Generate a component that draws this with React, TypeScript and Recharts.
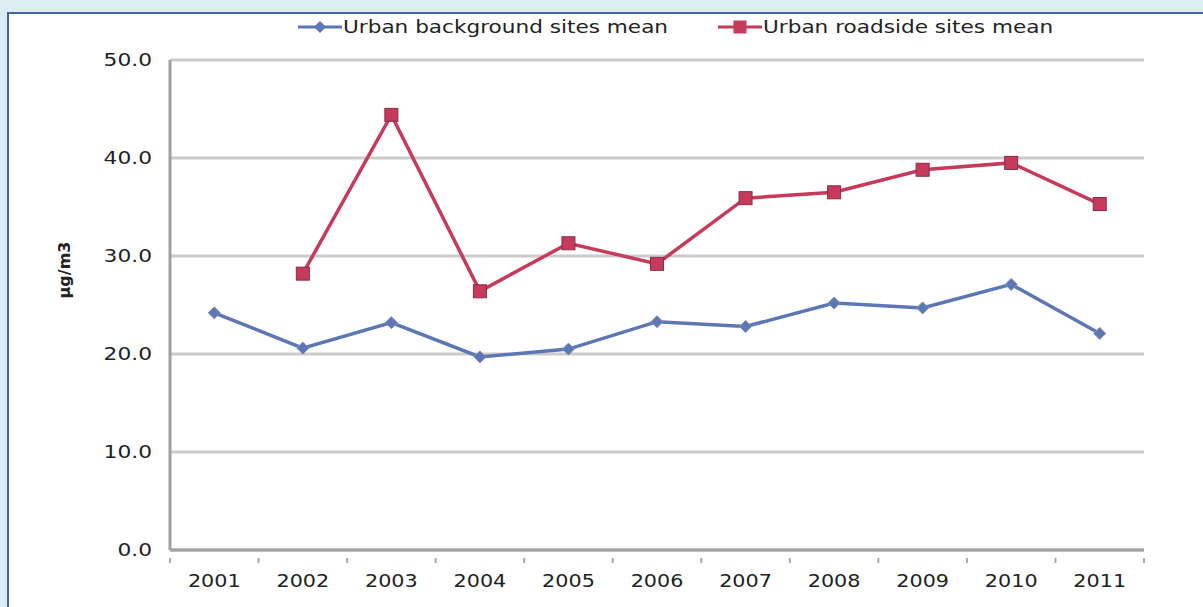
import React from "react";
import { LineChart, Line, XAxis, YAxis, CartesianGrid } from "recharts";

const years = ["2001", "2002", "2003", "2004", "2005", "2006", "2007", "2008", "2009", "2010", "2011"];
const background = [24.2, 20.6, 23.2, 19.7, 20.5, 23.3, 22.8, 25.2, 24.7, 27.1, 22.1];
const roadside = [null, 28.2, 44.4, 26.4, 31.3, 29.2, 35.9, 36.5, 38.8, 39.5, 35.3];
const yTicks = [0, 10, 20, 30, 40, 50];

const BLUE = "#5d76b4";
const RED = "#c63a5c";
const FONT = "'DejaVu Sans', sans-serif";
// source image is stretched sideways, so text is widened a bit
const STRETCH = 1.22;

const data = years.map((year, i) => ({
  pos: i + 0.5,
  year,
  background: background[i],
  roadside: roadside[i],
}));

// label ticks in the middle of each band, small tick marks on band edges
const xTicks: number[] = [];
for (let i = 0; i <= years.length * 2; i++) xTicks.push(i / 2);

function XTick(props: any) {
  const { x, y, payload } = props;
  const v = payload.value as number;
  if (Number.isInteger(v)) {
    return <line x1={x} x2={x} y1={y} y2={y + 5} stroke="#aaa" strokeWidth={2} />;
  }
  return (
    <text
      transform={`translate(${x},${y + 29}) scale(${STRETCH},1)`}
      textAnchor="middle"
      fontFamily={FONT}
      fontSize={17}
      fill="#222"
    >
      {years[Math.floor(v)]}
    </text>
  );
}

function YTick(props: any) {
  const { x, y, payload } = props;
  return (
    <text
      transform={`translate(${x},${y + 6}) scale(1.28,1)`}
      textAnchor="end"
      fontFamily={FONT}
      fontSize={17}
      fill="#222"
    >
      {(payload.value as number).toFixed(1)}
    </text>
  );
}

function Diamond(props: any) {
  const { cx, cy, index } = props;
  if (cx == null || cy == null) return <g key={`d${index}`} />;
  const r = 6;
  return (
    <path
      key={`d${index}`}
      d={`M${cx},${cy - r}L${cx + r},${cy}L${cx},${cy + r}L${cx - r},${cy}Z`}
      fill={BLUE}
      stroke="#8090aa"
      strokeWidth={1}
    />
  );
}

function Square(props: any) {
  const { cx, cy, index } = props;
  if (cx == null || cy == null) return <g key={`s${index}`} />;
  const r = 6.5;
  return (
    <rect
      key={`s${index}`}
      x={cx - r}
      y={cy - r}
      width={r * 2}
      height={r * 2}
      fill={RED}
      stroke="#8a2c44"
      strokeWidth={1}
    />
  );
}

function LegendItem({ color, marker, label }: { color: string; marker: "d" | "s"; label: string }) {
  return (
    <div style={{ display: "flex", alignItems: "center", position: "relative" }}>
      <svg width={44} height={16}>
        <line x1={0} x2={44} y1={8} y2={8} stroke={color} strokeWidth={3} />
        {marker === "d" ? (
          <path d="M22,2L28,8L22,14L16,8Z" fill={color} />
        ) : (
          <rect x={15.5} y={1.5} width={13} height={13} fill={color} />
        )}
      </svg>
      <span
        style={{
          fontFamily: FONT,
          fontSize: 17,
          color: "#222",
          marginLeft: 1,
          display: "inline-block",
          whiteSpace: "nowrap",
          transform: "scaleX(1.27)",
          transformOrigin: "left center",
        }}
      >
        {label}
      </span>
    </div>
  );
}

export default function App() {
  return (
    <div
      style={{
        position: "fixed",
        left: 0,
        top: 0,
        width: 1203,
        height: 607,
        background: "#dcedf3",
        overflow: "hidden",
      }}
    >
      <div
        style={{
          position: "absolute",
          left: 7,
          top: 12,
          width: 1220,
          height: 620,
          background: "#fff",
          borderLeft: "2px solid #46659a",
          borderTop: "2px solid #46659a",
        }}
      />
      <div style={{ position: "absolute", left: 0, top: 0 }}>
        <LineChart width={1203} height={607} data={data} margin={{ top: 60, right: 59, bottom: 0, left: 0 }}>
          <CartesianGrid vertical={false} stroke="#cbcbcb" strokeWidth={3} />
          <XAxis
            dataKey="pos"
            type="number"
            domain={[0, 11]}
            ticks={xTicks}
            interval={0}
            height={57}
            tick={<XTick />}
            tickLine={false}
            axisLine={{ stroke: "#a0a0a0", strokeWidth: 3 }}
          />
          <YAxis
            domain={[0, 50]}
            ticks={yTicks}
            width={170}
            tickSize={0}
            tickMargin={18}
            tick={<YTick />}
            axisLine={{ stroke: "#a0a0a0", strokeWidth: 3 }}
            label={{
              content: () => (
                <text
                  x={0}
                  y={0}
                  transform="translate(70,270) rotate(-90)"
                  textAnchor="middle"
                  fontFamily={FONT}
                  fontSize={16}
                  fontWeight="bold"
                  fill="#222"
                >
                  µg/m3
                </text>
              ),
            }}
          />
          <Line
            dataKey="background"
            stroke={BLUE}
            strokeWidth={3.5}
            dot={Diamond}
            activeDot={false}
            isAnimationActive={false}
          />
          <Line
            dataKey="roadside"
            stroke={RED}
            strokeWidth={3.5}
            dot={Square}
            activeDot={false}
            connectNulls={false}
            isAnimationActive={false}
          />
        </LineChart>
      </div>
      <div style={{ position: "absolute", top: 17, left: 298 }}>
        <LegendItem color={BLUE} marker="d" label="Urban background sites mean" />
      </div>
      <div style={{ position: "absolute", top: 17, left: 718 }}>
        <LegendItem color={RED} marker="s" label="Urban roadside sites mean" />
      </div>
    </div>
  );
}
